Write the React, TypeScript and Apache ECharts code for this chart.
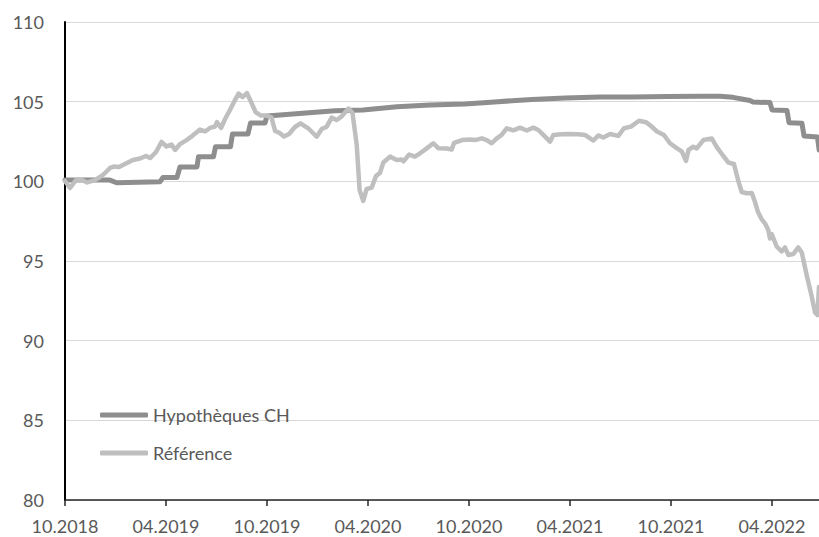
import React, { useEffect, useRef } from "react";
import * as echarts from "echarts";

// x positions are in months since October 2018
const xTickLabels = ["10.2018", "04.2019", "10.2019", "04.2020", "10.2020", "04.2021", "10.2021", "04.2022"];

const mortgageName = "Hypothèques CH";
const mortgageT = [0, 2.67, 3.07, 5.64, 5.82, 6.65, 6.83, 7.84, 7.93, 8.82, 8.94, 9.83, 9.95, 10.87, 11.02, 11.88, 12.0, 12.77, 16.04, 17.7, 19.72, 21.68, 23.76, 25.72, 27.74, 29.7, 31.78, 33.74, 35.76, 37.72, 38.91, 39.68, 40.28, 40.69, 40.87, 41.88, 42.0, 42.89, 43.01, 43.78, 43.9, 44.7, 44.8];
const mortgageV = [100.08, 100.08, 99.91, 99.98, 100.24, 100.24, 100.9, 100.9, 101.55, 101.55, 102.17, 102.17, 102.97, 102.97, 103.66, 103.66, 104.1, 104.16, 104.43, 104.48, 104.68, 104.79, 104.85, 105.0, 105.14, 105.23, 105.29, 105.29, 105.32, 105.34, 105.34, 105.27, 105.15, 105.07, 104.98, 104.94, 104.48, 104.45, 103.68, 103.64, 102.85, 102.78, 101.97];

const referenceName = "Référence";
const referenceT = [0, 0.3, 0.65, 1.01, 1.31, 1.78, 2.08, 2.32, 2.67, 2.91, 3.21, 3.62, 4.04, 4.46, 4.81, 5.05, 5.41, 5.73, 6.03, 6.33, 6.54, 6.83, 7.22, 7.55, 8.02, 8.32, 8.61, 8.91, 9.03, 9.27, 9.51, 9.8, 10.1, 10.31, 10.55, 10.81, 11.08, 11.32, 11.64, 11.97, 12.27, 12.48, 12.71, 13.01, 13.31, 13.66, 13.99, 14.45, 14.95, 15.25, 15.55, 15.84, 16.14, 16.4, 16.84, 17.08, 17.33, 17.5, 17.72, 17.92, 18.22, 18.48, 18.71, 18.91, 19.31, 19.71, 20.0, 20.11, 20.44, 20.79, 21.09, 21.49, 21.88, 22.19, 22.68, 22.97, 23.11, 23.59, 24.06, 24.36, 24.76, 25.05, 25.35, 25.65, 25.94, 26.24, 26.63, 27.03, 27.43, 27.82, 28.12, 28.52, 28.81, 29.01, 29.51, 29.9, 30.49, 30.89, 31.39, 31.68, 31.98, 32.38, 32.87, 33.21, 33.62, 34.1, 34.52, 34.81, 35.17, 35.58, 35.94, 36.36, 36.65, 36.89, 37.04, 37.33, 37.53, 37.92, 38.42, 38.72, 39.11, 39.41, 39.74, 40.0, 40.2, 40.5, 40.8, 40.99, 41.17, 41.38, 41.59, 41.78, 41.88, 41.98, 42.28, 42.57, 42.77, 42.97, 43.27, 43.56, 43.77, 44.06, 44.36, 44.56, 44.7, 44.79];
const referenceV = [100.02, 99.58, 100.08, 100.08, 99.93, 100.08, 100.27, 100.46, 100.84, 100.93, 100.9, 101.12, 101.34, 101.43, 101.59, 101.46, 101.84, 102.47, 102.19, 102.31, 101.97, 102.34, 102.59, 102.84, 103.25, 103.13, 103.35, 103.44, 103.72, 103.35, 103.91, 104.48, 105.1, 105.51, 105.29, 105.54, 104.92, 104.35, 104.13, 104.13, 104.0, 103.16, 103.06, 102.81, 102.97, 103.41, 103.64, 103.33, 102.8, 103.28, 103.43, 104.0, 103.85, 104.04, 104.57, 104.29, 102.28, 99.46, 98.77, 99.52, 99.61, 100.34, 100.52, 101.18, 101.55, 101.34, 101.37, 101.25, 101.68, 101.55, 101.76, 102.07, 102.39, 102.07, 102.06, 102.0, 102.41, 102.59, 102.63, 102.59, 102.7, 102.59, 102.39, 102.7, 102.91, 103.33, 103.2, 103.37, 103.19, 103.37, 103.22, 102.8, 102.49, 102.91, 102.95, 102.97, 102.95, 102.91, 102.56, 102.88, 102.75, 102.97, 102.85, 103.33, 103.43, 103.8, 103.71, 103.47, 103.13, 102.91, 102.39, 102.07, 101.87, 101.28, 101.97, 102.17, 102.07, 102.59, 102.69, 102.15, 101.59, 101.18, 101.09, 100.02, 99.33, 99.25, 99.27, 98.7, 98.07, 97.63, 97.35, 96.94, 96.41, 96.69, 95.91, 95.6, 95.85, 95.38, 95.44, 95.85, 95.53, 94.12, 92.77, 91.77, 91.61, 93.37];

const FONT = "Lato, 'Liberation Sans', sans-serif";
const TEXT = "#595959";

export default function App() {
  const ref = useRef<HTMLDivElement>(null);
  useEffect(() => {
    if (!ref.current) return;
    const chart = echarts.init(ref.current, undefined, { renderer: "svg" });
    chart.setOption({
      animation: false,
      backgroundColor: "#ffffff",
      grid: { left: 65, top: 22, height: 478, width: 808, containLabel: false },
      legend: {
        orient: "vertical",
        left: 100,
        top: 405,
        padding: 0,
        itemWidth: 48,
        itemHeight: 5,
        itemGap: 18,
        icon: "roundRect",
        textStyle: { fontSize: 18, color: TEXT, fontFamily: FONT, lineHeight: 20 },
        data: [mortgageName, referenceName],
      },
      xAxis: {
        type: "value",
        min: 0,
        max: 48,
        interval: 6,
        axisLine: { show: true, onZero: false, lineStyle: { color: "#262626", width: 1.5 } },
        axisTick: { show: true, length: 6, lineStyle: { color: "#262626", width: 1.5 } },
        splitLine: { show: false },
        axisLabel: {
          margin: 17,
          fontSize: 18,
          lineHeight: 18,
          color: TEXT,
          fontFamily: FONT,
          formatter: (v: number) => {
            const i = Math.round(v / 6);
            return Math.abs(v - i * 6) < 1e-6 ? xTickLabels[i] ?? "" : "";
          },
        },
      },
      yAxis: {
        type: "value",
        min: 80,
        max: 110,
        interval: 5,
        axisLine: { show: true, lineStyle: { color: "#000000", width: 2 } },
        axisTick: { show: false },
        splitLine: { show: true, lineStyle: { color: "#d9d9d9", width: 1 } },
        axisLabel: { margin: 21, fontSize: 18, color: TEXT, fontFamily: FONT },
      },
      series: [
        {
          name: mortgageName,
          type: "line",
          showSymbol: false,
          symbol: "none",
          color: "#8e8e8e",
          lineStyle: { width: 5, color: "#8e8e8e", join: "round", cap: "round" },
          data: mortgageT.map((t, i) => [t, mortgageV[i]]),
        },
        {
          name: referenceName,
          type: "line",
          showSymbol: false,
          symbol: "none",
          color: "#bfbfbf",
          lineStyle: { width: 4.5, color: "#bfbfbf", join: "round", cap: "round" },
          data: referenceT.map((t, i) => [t, referenceV[i]]),
        },
      ],
    });
    return () => chart.dispose();
  }, []);
  return (
    <div
      style={{ position: "absolute", left: 0, top: 0, width: 819, height: 537, overflow: "hidden", background: "#fff" }}
    >
      <div ref={ref} style={{ width: 920, height: 537 }} />
    </div>
  );
}
